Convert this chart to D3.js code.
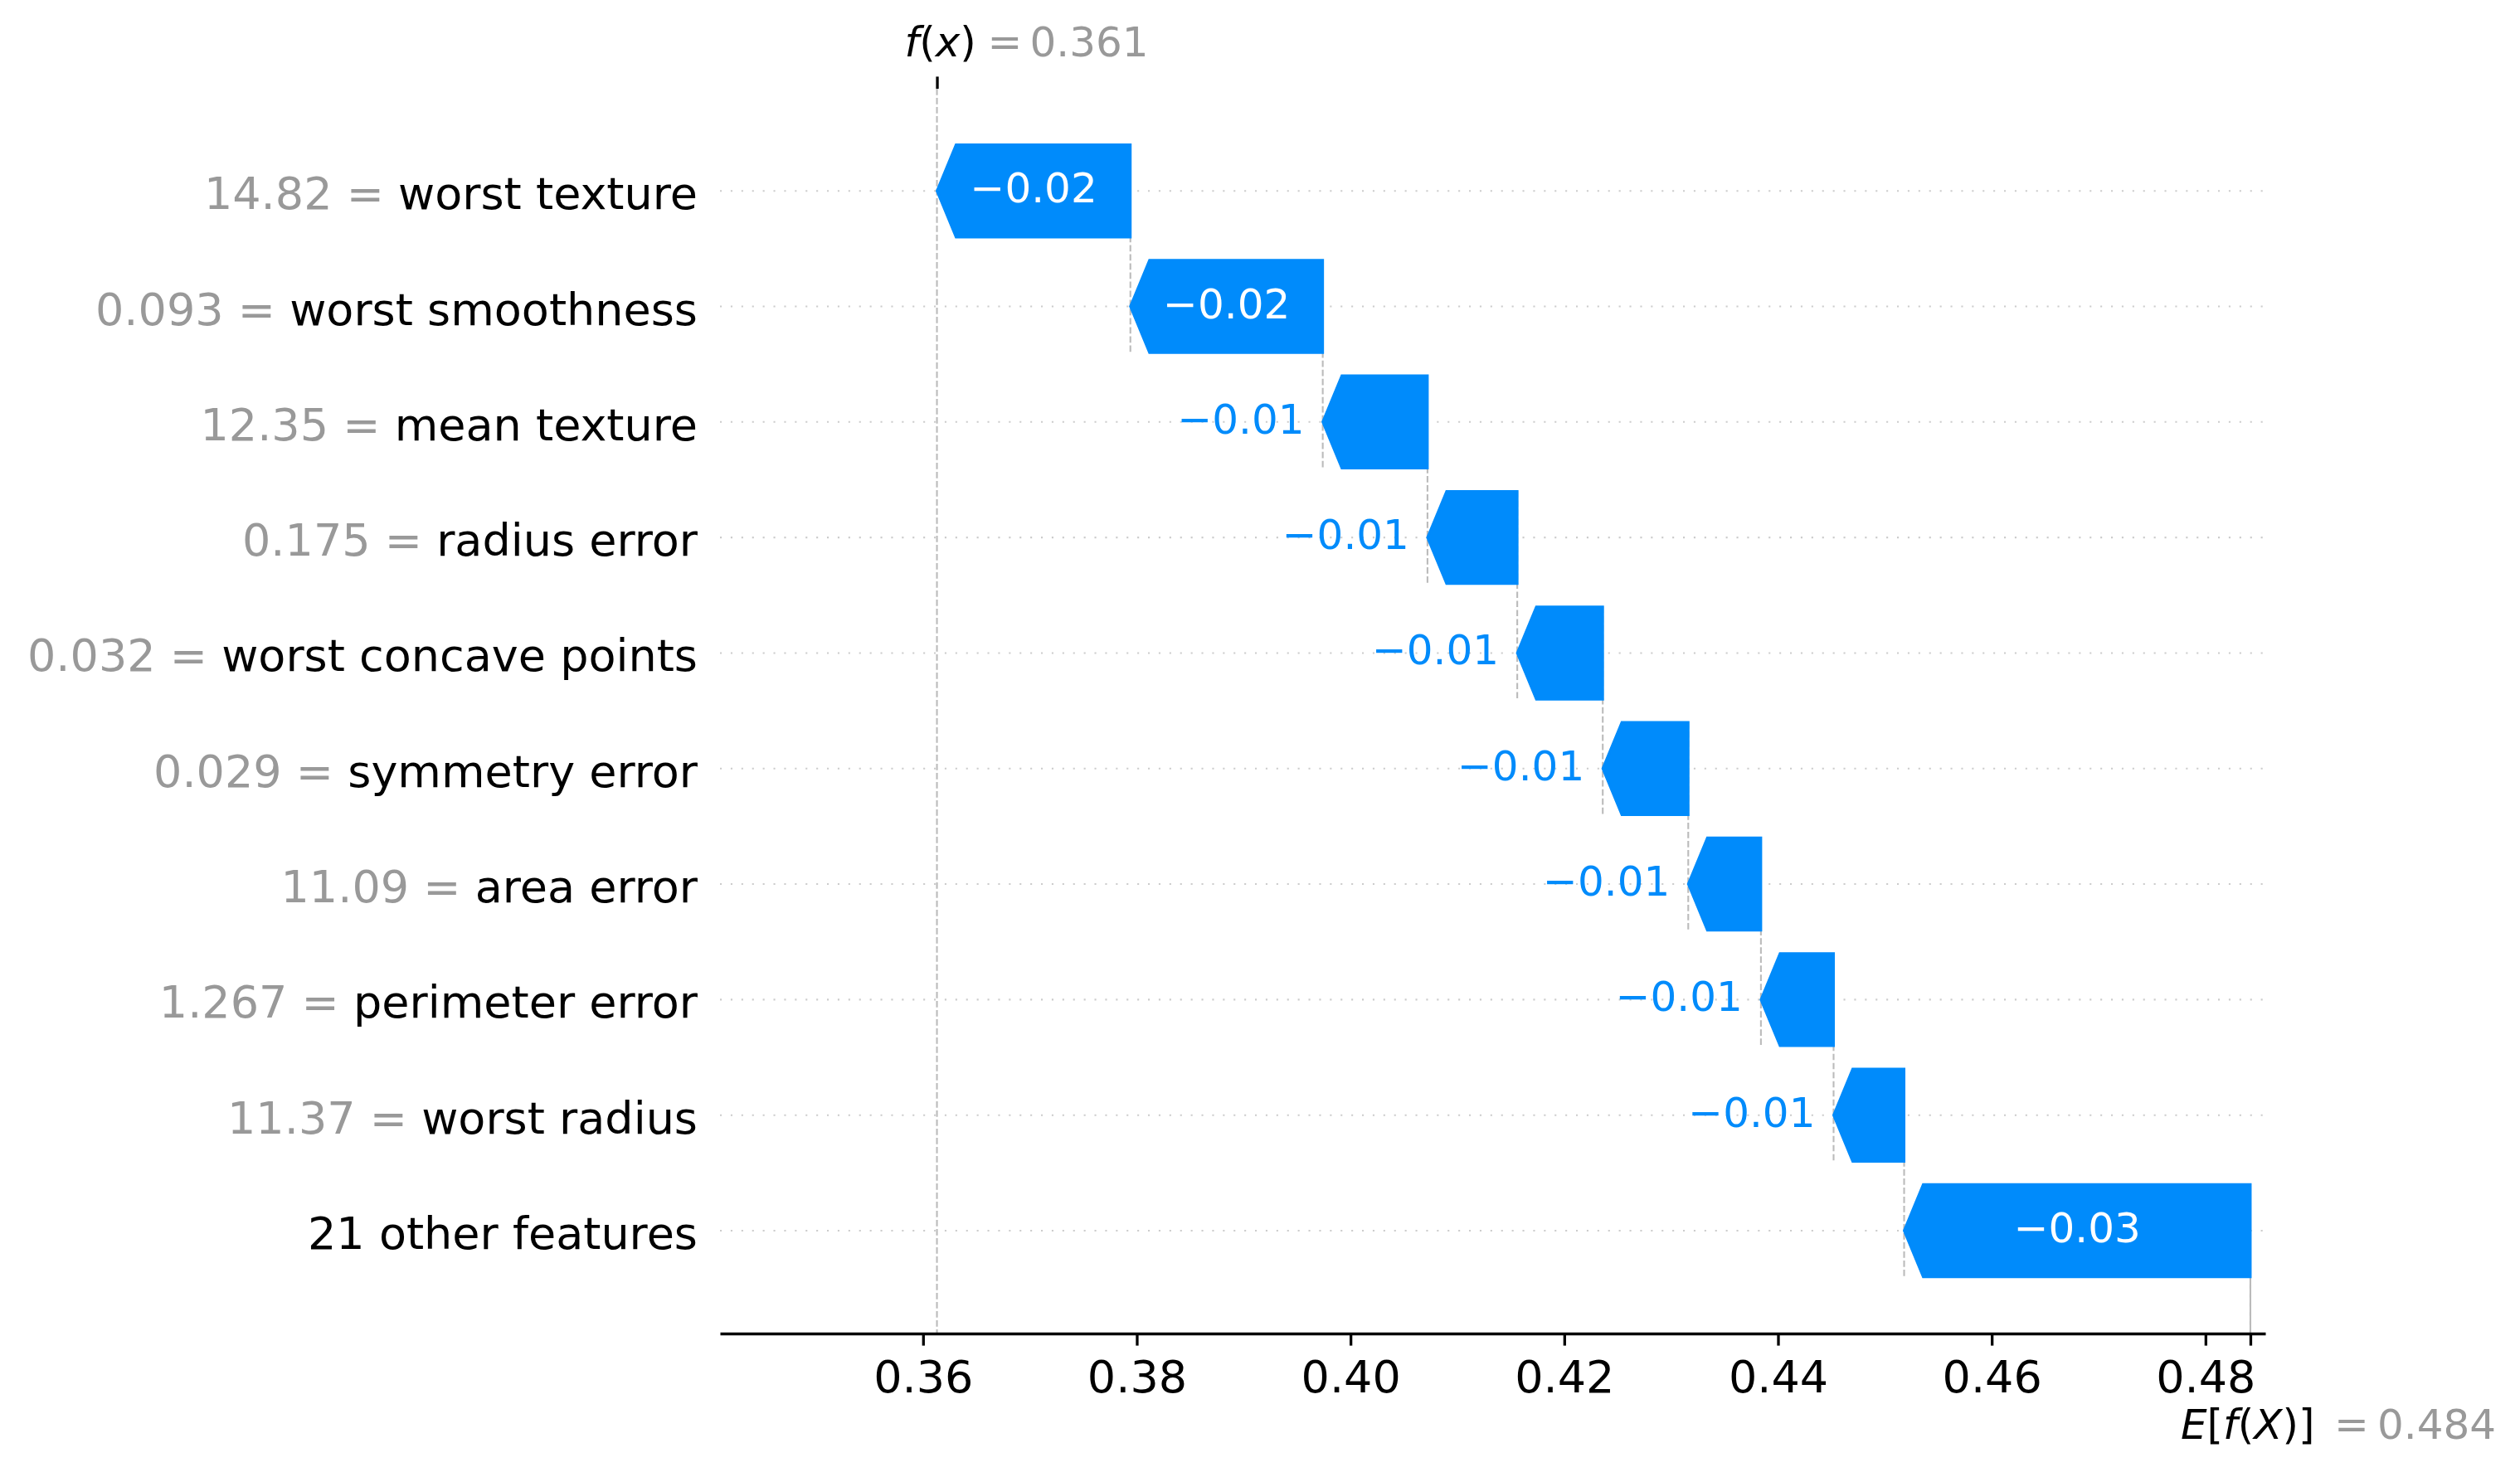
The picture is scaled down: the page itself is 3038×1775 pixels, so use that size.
<!DOCTYPE html>
<html>
<head>
<meta charset="utf-8">
<script src="https://cdn.jsdelivr.net/npm/d3@7"></script>
<style>
  body { margin: 0; background: #fff; }
  svg text { font-family: "DejaVu Sans", sans-serif; }
</style>
</head>
<body>
<svg id="chart" width="3038" height="1775"></svg>
<script>
var featureNames = ['worst texture', 'worst smoothness', 'mean texture', 'radius error',
    'worst concave points', 'symmetry error', 'area error', 'perimeter error',
    'worst radius', '21 other features'];
var featureValues = ['14.82', '0.093', '12.35', '0.175', '0.032', '0.029', '11.09', '1.267', '11.37', ''];
var shapValues = [-0.0181, -0.0180, -0.0098, -0.0084, -0.0080, -0.0080, -0.0068, -0.0068, -0.0066, -0.0324];
var baseValue = 0.4842;
var xTicks = [0.36, 0.38, 0.40, 0.42, 0.44, 0.46, 0.48];

var blue = '#008bfb';
var gray = '#999999';

// axes box (px)
var axLeft = 868, axRight = 2731, axTop = 107, axBottom = 1608;
var tickLen = 14.6;
var spineW = 3.3;

var svg = d3.select('#chart');
svg.append('rect').attr('width', 3038).attr('height', 1775).attr('fill', '#fff');

var fx = baseValue + d3.sum(shapValues);

// each bar goes from the running total back by its shap value
var bars = [];
var loc = fx;
shapValues.forEach(function(v, i) {
    bars.push({ i: i, lo: Math.min(loc, loc - v), hi: Math.max(loc, loc - v), v: v });
    loc -= v;
});

var x = d3.scaleLinear().domain([0.341, 0.4856]).range([axLeft, axRight]);
var y = d3.scaleLinear().domain([0, featureNames.length - 1]).range([230.2, 1484]);

var step = y(1) - y(0);
var half = 0.4 * step;
var headLen = 23;

// dotted row lines
svg.append('g').selectAll('line')
    .data(featureNames)
    .join('line')
    .attr('x1', axLeft).attr('x2', axRight)
    .attr('y1', function(d, i) { return y(i); })
    .attr('y2', function(d, i) { return y(i); })
    .attr('stroke', '#cccccc')
    .attr('stroke-width', 2.1)
    .attr('stroke-dasharray', '2.1 10.8');

// dashed connectors between bars
svg.append('g').selectAll('line')
    .data(bars)
    .join('line')
    .attr('x1', function(d) { return x(d.hi); })
    .attr('x2', function(d) { return x(d.hi); })
    .attr('y1', function(d) { return y(d.i) - half; })
    .attr('y2', function(d) { return Math.min(y(d.i + 1) + half, axBottom); })
    .attr('stroke', '#bbbbbb')
    .attr('stroke-width', 2.1)
    .attr('stroke-dasharray', '7.7 3.3');

// f(x) line, full height
svg.append('line')
    .attr('x1', x(fx)).attr('x2', x(fx))
    .attr('y1', axTop).attr('y2', axBottom)
    .attr('stroke', '#bbbbbb').attr('stroke-width', 2.1).attr('stroke-dasharray', '7.7 3.3');

// E[f(X)] line, bottom tenth
svg.append('line')
    .attr('x1', x(baseValue)).attr('x2', x(baseValue))
    .attr('y1', axBottom - (axBottom - axTop) / featureNames.length).attr('y2', axBottom)
    .attr('stroke', '#bbbbbb').attr('stroke-width', 2.1).attr('stroke-dasharray', '7.7 3.3');

var arrowPath = function(d) {
    var cy = y(d.i);
    var l = x(d.lo), r = x(d.hi);
    var hl = Math.min(headLen, r - l);
    return 'M ' + r + ' ' + (cy - half) + ' L ' + (l + hl) + ' ' + (cy - half) +
        ' L ' + l + ' ' + cy + ' L ' + (l + hl) + ' ' + (cy + half) +
        ' L ' + r + ' ' + (cy + half) + ' Z';
};

svg.append('g').selectAll('path')
    .data(bars)
    .join('path')
    .attr('d', arrowPath)
    .attr('fill', blue)
    .attr('stroke', blue)
    .attr('stroke-width', 3)
    .attr('stroke-linejoin', 'miter');

// value labels: inside if they fit, else left of the tip
var fmt = d3.format('.2f');
var labels = svg.append('g').style('font-size', '50px');
bars.forEach(function(d) {
    var w = x(d.hi) - x(d.lo);
    var t = labels.append('text')
        .attr('x', (x(d.lo) + x(d.hi)) / 2)
        .attr('y', y(d.i) + 14)
        .attr('text-anchor', 'middle')
        .attr('fill', '#fff')
        .text(fmt(d.v));
    if (t.node().getComputedTextLength() > w) {
        t.attr('x', x(d.lo) - 22)
            .attr('text-anchor', 'end')
            .attr('fill', blue);
    }
});

// feature labels
var ylab = svg.append('g').style('font-size', '54px');
featureNames.forEach(function(name, i) {
    var t = ylab.append('text')
        .attr('x', 841)
        .attr('y', y(i) + 22)
        .attr('text-anchor', 'end');
    if (featureValues[i] !== '') {
        t.append('tspan').attr('fill', gray).text(featureValues[i] + ' = ');
    }
    t.append('tspan').attr('fill', '#000').text(name);
});

// bottom axis
var xAxis = d3.axisBottom(x)
    .tickValues(xTicks.concat([baseValue]))
    .tickSize(tickLen)
    .tickSizeOuter(0)
    .tickFormat(function(d) { return d === baseValue ? '' : fmt(d); });

var gx = svg.append('g')
    .attr('transform', 'translate(0,' + axBottom + ')')
    .call(xAxis);
gx.attr('font-size', null).attr('font-family', null);
gx.select('.domain').attr('stroke', '#000').attr('stroke-width', spineW);
gx.selectAll('.tick line').attr('stroke', '#000').attr('stroke-width', spineW);
gx.selectAll('.tick text')
    .attr('y', 71).attr('dy', null)
    .attr('fill', '#000')
    .style('font-size', '54px');

// top axis: one tick at f(x)
var gTop = svg.append('g')
    .attr('transform', 'translate(0,' + axTop + ')')
    .call(d3.axisTop(x).tickValues([fx]).tickSize(tickLen).tickFormat(''));
gTop.select('.domain').remove();
gTop.selectAll('.tick line').attr('stroke', '#000').attr('stroke-width', spineW);

// f(x) = ... label
var fxPx = x(fx);
var f1 = svg.append('text').attr('x', fxPx - 39).attr('y', 68).style('font-size', '50px').attr('fill', '#000');
f1.append('tspan').style('font-style', 'italic').text('f');
f1.append('tspan').text('(');
f1.append('tspan').style('font-style', 'italic').text('x');
f1.append('tspan').text(')');
svg.append('text').attr('x', fxPx + 61).attr('y', 68).style('font-size', '50px').attr('fill', gray).text('=');
svg.append('text').attr('x', fxPx + 112).attr('y', 68).style('font-size', '50px').attr('fill', gray)
    .text(d3.format('.3f')(fx));

// E[f(X)] = ... label
var bPx = x(baseValue);
var e1 = svg.append('text').attr('x', bPx - 84).attr('y', 1735).style('font-size', '50px').attr('fill', '#000');
e1.append('tspan').style('font-style', 'italic').text('E');
e1.append('tspan').text('[');
e1.append('tspan').style('font-style', 'italic').text('f');
e1.append('tspan').text('(');
e1.append('tspan').style('font-style', 'italic').text('X');
e1.append('tspan').text(')]');
svg.append('text').attr('x', bPx + 101).attr('y', 1735).style('font-size', '50px').attr('fill', gray).text('=');
svg.append('text').attr('x', bPx + 153).attr('y', 1735).style('font-size', '50px').attr('fill', gray)
    .text(d3.format('.3f')(baseValue));
</script>
</body>
</html>
